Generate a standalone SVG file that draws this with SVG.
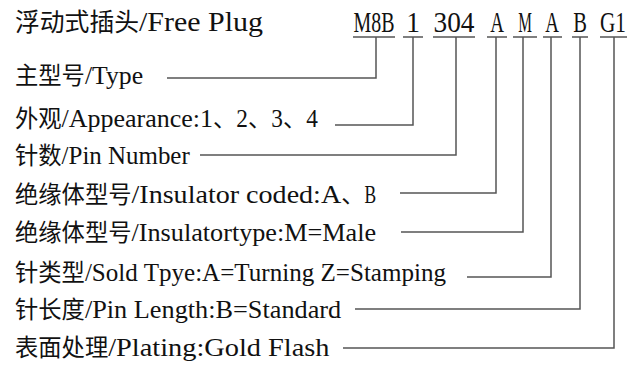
<svg xmlns="http://www.w3.org/2000/svg" width="630" height="365" viewBox="0 0 630 365">
<style>
text { fill: #111; }
.cjk { font-family: "Noto Sans CJK SC", "Noto Sans CJK JP", sans-serif; font-size: 23.3px; }
.lat { font-family: "Liberation Serif", "Times New Roman", serif; font-size: 26px; }
.tcjk { font-family: "Noto Sans CJK SC", sans-serif; font-size: 24.8px; }
.tlat { font-family: "Liberation Serif", serif; font-size: 28px; }
.code { font-family: "Liberation Serif", serif; font-size: 24px; }
.ln { fill: none; stroke: #555; stroke-width: 1.5; }
</style>
<rect width="630" height="365" fill="#fff"/>

<g id="title">
<text y="31"><tspan class="tcjk" x="15">浮动式插头</tspan><tspan class="tlat" x="139" textLength="124" lengthAdjust="spacingAndGlyphs">/Free Plug</tspan></text>
</g>

<g id="code">
<text class="code" y="0" transform="translate(0 32) scale(1 1.2)"><tspan x="353.5" textLength="41" lengthAdjust="spacingAndGlyphs">M8B</tspan><tspan x="406.2" textLength="13.7" lengthAdjust="spacingAndGlyphs">1</tspan><tspan x="433.5" textLength="41" lengthAdjust="spacingAndGlyphs">304</tspan><tspan x="490.2" textLength="13.7" lengthAdjust="spacingAndGlyphs">A</tspan><tspan x="518.2" textLength="13.7" lengthAdjust="spacingAndGlyphs">M</tspan><tspan x="545.2" textLength="13.7" lengthAdjust="spacingAndGlyphs">A</tspan><tspan x="573.2" textLength="13.7" lengthAdjust="spacingAndGlyphs">B</tspan><tspan x="600" textLength="26" lengthAdjust="spacingAndGlyphs">G1</tspan></text>
</g>

<g id="row-type">
<text y="84"><tspan class="cjk" x="15">主型号</tspan><tspan class="lat" x="84.9" textLength="58.25" lengthAdjust="spacingAndGlyphs">/Type</tspan></text>
</g>
<g id="row-appearance">
<text y="127"><tspan class="cjk" x="15">外观</tspan><tspan class="lat" x="61.6" textLength="151.45" lengthAdjust="spacingAndGlyphs">/Appearance:1</tspan><tspan class="cjk" x="213.05">、</tspan><tspan class="lat" x="236.35" textLength="11.65" lengthAdjust="spacingAndGlyphs">2</tspan><tspan class="cjk" x="248">、</tspan><tspan class="lat" x="271.3" textLength="11.65" lengthAdjust="spacingAndGlyphs">3</tspan><tspan class="cjk" x="282.95">、</tspan><tspan class="lat" x="306.25" textLength="11.65" lengthAdjust="spacingAndGlyphs">4</tspan></text>
</g>
<g id="row-pin-number">
<text y="164"><tspan class="cjk" x="15">针数</tspan><tspan class="lat" x="61.6" textLength="128.15" lengthAdjust="spacingAndGlyphs">/Pin Number</tspan></text>
</g>
<g id="row-insulator-coded">
<text y="203"><tspan class="cjk" x="15">绝缘体型号</tspan><tspan class="lat" x="131.5" textLength="209.7" lengthAdjust="spacingAndGlyphs">/Insulator coded:A</tspan><tspan class="cjk" x="341.2">、</tspan><tspan class="lat" x="364.5" textLength="11.65" lengthAdjust="spacingAndGlyphs">B</tspan></text>
</g>
<g id="row-insulator-type">
<text y="241"><tspan class="cjk" x="15">绝缘体型号</tspan><tspan class="lat" x="131.5" textLength="244.65" lengthAdjust="spacingAndGlyphs">/Insulatortype:M=Male</tspan></text>
</g>
<g id="row-sold-type">
<text y="281"><tspan class="cjk" x="15">针类型</tspan><tspan class="lat" x="84.9" textLength="361.15" lengthAdjust="spacingAndGlyphs">/Sold Tpye:A=Turning Z=Stamping</tspan></text>
</g>
<g id="row-pin-length">
<text y="318"><tspan class="cjk" x="15">针长度</tspan><tspan class="lat" x="84.9" textLength="256.3" lengthAdjust="spacingAndGlyphs">/Pin Length:B=Standard</tspan></text>
</g>
<g id="row-plating">
<text y="356"><tspan class="cjk" x="15">表面处理</tspan><tspan class="lat" x="108.2" textLength="221.35" lengthAdjust="spacingAndGlyphs">/Plating:Gold Flash</tspan></text>
</g>

<g id="connectors" class="ln">
<path class="ln" d="M353 37H395M403 37H423M433 37H475M487 37H507M513 37H537M543 37H562M572 37H588M600 37H627"/>
<polyline class="ln" points="167,78 376,78 376,37"/>
<polyline class="ln" points="335,125 413,125 413,37"/>
<polyline class="ln" points="200,155 456,155 456,37"/>
<polyline class="ln" points="400,193 496,193 496,37"/>
<polyline class="ln" points="401,232 523,232 523,37"/>
<polyline class="ln" points="467,277 551,277 551,37"/>
<polyline class="ln" points="355,309 580,309 580,37"/>
<polyline class="ln" points="343,348 614,348 614,37"/>
</g>
</svg>
